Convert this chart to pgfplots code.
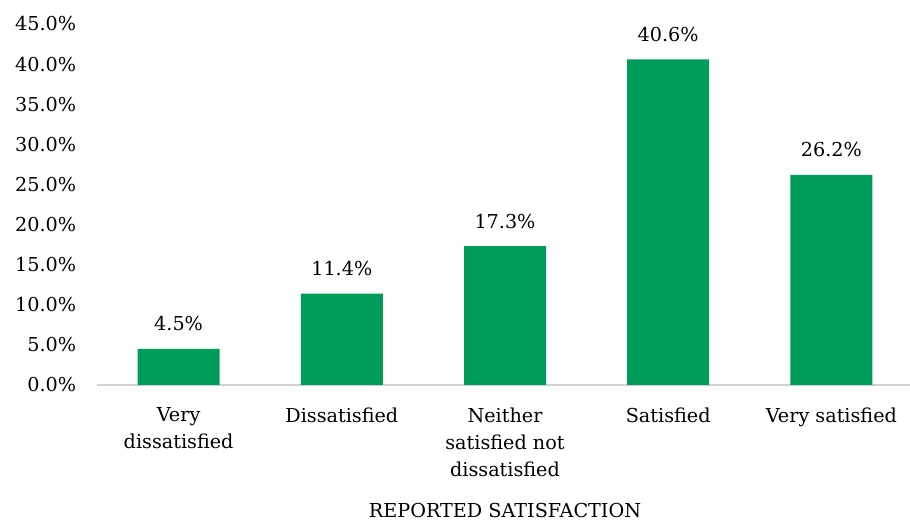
\documentclass[border=0pt]{standalone}
\usepackage{fontspec}
\setmainfont{DejaVu Serif}
\usepackage{pgfplots}
\usetikzlibrary{calc}
\pgfplotsset{compat=1.18}
\definecolor{bargreen}{RGB}{0,157,90}
\begin{document}
\fontsize{9.6}{13.5}\selectfont
\begin{tikzpicture}
\begin{axis}[
  name=ax,
  scale only axis,
  width=408pt, height=180.5pt,
  xmin=-0.5, xmax=4.5,
  ymin=0, ymax=45,
  axis lines*=left,
  y axis line style={draw=none},
  x axis line style={draw=black!18, line width=0.9pt},
  ytick={0,5,...,45},
  yticklabel={\pgfmathprintnumber[fixed,fixed zerofill,precision=1]{\tick}\%},
  /pgf/number format/assume math mode=true,
  major tick length=0pt,
  xtick={0,1,2,3,4},
  xticklabels={{Very\\dissatisfied},{Dissatisfied},{Neither\\satisfied not\\dissatisfied},{Satisfied},{Very satisfied}},
  xticklabel style={align=center, font=\fontsize{9.6}{13.5}\selectfont, yshift=-8pt},
  yticklabel style={font=\fontsize{9.6}{13.5}\selectfont, xshift=-7pt},
  xlabel={REPORTED SATISFACTION},
  xlabel style={font=\fontsize{9.6}{13.5}\selectfont, yshift=-6.5pt},
  ybar, bar width=41pt,
  nodes near coords={\pgfmathprintnumber[fixed,fixed zerofill,precision=1]{\pgfplotspointmeta}\%},
  nodes near coords style={font=\fontsize{9.6}{13.5}\selectfont, yshift=5.5pt},
  clip=false,
]
\addplot[fill=bargreen, draw=none] coordinates {(0,4.5) (1,11.4) (2,17.3) (3,40.6) (4,26.2)};
\end{axis}
\pgfresetboundingbox
\useasboundingbox ($(ax.south west)+(-48.5pt,-69pt)$) rectangle ($(ax.north west)+(406.5pt,12pt)$);
\end{tikzpicture}
\end{document}
